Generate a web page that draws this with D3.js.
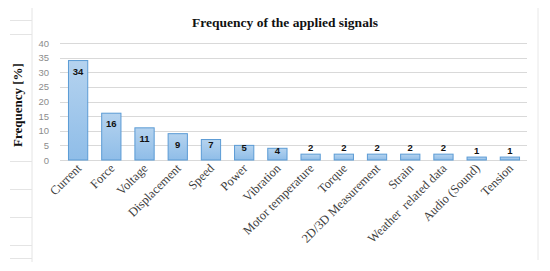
<!DOCTYPE html>
<html>
<head>
<meta charset="utf-8">
<script src="https://cdn.jsdelivr.net/npm/d3@7"></script>
<style>
  body { margin: 0; background: #fff; }
  svg { display: block; }
</style>
</head>
<body>
<svg id="chart" width="550" height="271"></svg>
<script>
const categories = ["Current", "Force", "Voltage", "Displacement", "Speed", "Power", "Vibration",
  "Motor temperature", "Torque", "2D/3D Measurement", "Strain", "Weather  related data",
  "Audio (Sound)", "Tension"];
const values = [34, 16, 11, 9, 7, 5, 4, 2, 2, 2, 2, 2, 1, 1];
const yTicks = [0, 5, 10, 15, 20, 25, 30, 35, 40];
const pageLines = [20, 34, 161, 189, 217, 245, 258];

const svg = d3.select('#chart');
const margin = {left: 61.5, right: 23.5, top: 43, bottom: 111};
const W = 550, H = 271;

// faint page frame behind the chart
svg.append('line').attr('x1', 32).attr('x2', 32).attr('y1', 8).attr('y2', 262)
  .attr('stroke', '#e4e4e4').attr('stroke-width', 1);
svg.append('line').attr('x1', 538).attr('x2', 538).attr('y1', 8).attr('y2', 260)
  .attr('stroke', '#e8e8e8').attr('stroke-width', 1);
svg.selectAll('.pl').data(pageLines).enter().append('line')
  .attr('x1', 10).attr('x2', 32).attr('y1', d => d + 0.5).attr('y2', d => d + 0.5)
  .attr('stroke', '#e4e4e4');

const x = d3.scaleBand().domain(categories)
  .range([margin.left, W - margin.right]).paddingInner(0.42).paddingOuter(0.21);
const y = d3.scaleLinear().domain([0, 40]).range([H - margin.bottom, margin.top]);

// gridlines
svg.append('g').selectAll('line').data(yTicks).enter().append('line')
  .attr('x1', 60).attr('x2', 527)
  .attr('y1', d => Math.round(y(d)) + 0.5).attr('y2', d => Math.round(y(d)) + 0.5)
  .attr('stroke', '#d9d9d9').attr('stroke-width', 1);

// y axis labels
const yAxis = d3.axisLeft(y).tickValues(yTicks).tickSize(0).tickPadding(0);
svg.append('g').attr('transform', 'translate(49,0)').call(yAxis)
  .call(g => g.select('.domain').remove())
  .call(g => g.selectAll('text').attr('fill', '#8c8c8c')
    .style('font-family', 'Liberation Sans, Arial, sans-serif').style('font-size', '9.5px'));

const defs = svg.append('defs');
const grad = defs.append('linearGradient').attr('id', 'barGrad')
  .attr('x1', 0).attr('x2', 0).attr('y1', 0).attr('y2', 1);
grad.append('stop').attr('offset', '0%').attr('stop-color', '#b5d3ef');
grad.append('stop').attr('offset', '100%').attr('stop-color', '#8fbde8');

// bars
svg.append('g').selectAll('rect').data(values).enter().append('rect')
  .attr('x', (d, i) => x(categories[i]))
  .attr('y', d => y(d))
  .attr('width', x.bandwidth())
  .attr('height', d => y(0) - y(d))
  .attr('fill', 'url(#barGrad)')
  .attr('stroke', '#5b9bd5').attr('stroke-width', 1);

// value labels
svg.append('g').selectAll('text').data(values).enter().append('text')
  .attr('x', (d, i) => x(categories[i]) + x.bandwidth() / 2)
  .attr('y', d => {
    const top = y(d);
    if (d <= 2) return top - 3;
    return Math.max(top + 5.5, Math.min(top + 14, 148));
  })
  .attr('text-anchor', 'middle')
  .style('font-family', 'Liberation Sans, Arial, sans-serif')
  .style('font-size', '9.5px').style('font-weight', 'bold')
  .attr('fill', '#111')
  .text(d => d);

// category labels
svg.append('g').selectAll('text').data(categories).enter().append('text')
  .attr('transform', d => `translate(${x(d) + x.bandwidth() / 2 + 4},169) rotate(-45)`)
  .attr('text-anchor', 'end')
  .attr('xml:space', 'preserve')
  .style('font-family', 'Liberation Serif, serif')
  .style('font-size', '12.5px')
  .attr('fill', '#404040')
  .text(d => d);

// title
svg.append('text').attr('x', 285).attr('y', 27).attr('text-anchor', 'middle')
  .style('font-family', 'Liberation Serif, serif').style('font-size', '13.5px')
  .style('font-weight', 'bold').attr('fill', '#111')
  .text('Frequency of the applied signals');

// y title
svg.append('text').attr('transform', 'translate(22,105) rotate(-90)')
  .attr('text-anchor', 'middle')
  .style('font-family', 'Liberation Serif, serif').style('font-size', '13px')
  .style('font-weight', 'bold').attr('fill', '#111')
  .text('Frequency [%]');
</script>
</body>
</html>
